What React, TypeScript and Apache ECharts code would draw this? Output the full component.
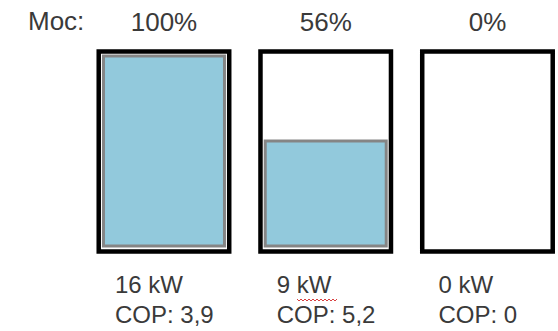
import React, { useEffect, useRef } from "react";
import * as echarts from "echarts";

// Data
const units = ["A", "B", "C"];
const capacity = [100, 100, 100];
const loadPercent = [100, 56, 0];
const powerKW = [16, 9, 0];
const copValues = ["3,9", "5,2", "0"];
const titleLabel = "Moc:";

export default function App() {
  const ref = useRef<HTMLDivElement>(null);

  useEffect(() => {
    if (!ref.current) return;
    const chart = echarts.init(ref.current, null, { renderer: "svg" });
    const textColor = "#3a3a3a";
    const font = "Liberation Sans, Arial, sans-serif";
    const gridLeft = 83.1;
    const gridWidth = 485.25;

    chart.setOption({
      animation: false,
      backgroundColor: "#ffffff",
      grid: [
        { left: gridLeft, width: gridWidth, top: 49.25, bottom: 331 - 253.75, outerBoundsMode: "none" },
        { left: gridLeft, width: gridWidth, top: 54.5, bottom: 331 - 247.5, outerBoundsMode: "none" },
      ],
      xAxis: [
        { type: "category", data: units, gridIndex: 0, show: false },
        { type: "category", data: units, gridIndex: 1, show: false },
      ],
      yAxis: [
        { type: "value", min: 0, max: 100, gridIndex: 0, show: false },
        { type: "value", min: 0, max: 100, gridIndex: 1, show: false },
      ],
      graphic: [
        {
          type: "text",
          left: 28,
          top: 8,
          style: {
            text: titleLabel,
            fontSize: 26,
            fontFamily: font,
            fill: textColor,
          },
        },
        {
          type: "polyline",
          shape: {
            points: [
              [297, 299], [299, 301], [301, 299], [303, 301], [305, 299], [307, 301],
              [309, 299], [311, 301], [313, 299], [315, 301], [317, 299], [319, 301],
              [321, 299], [323, 301], [325, 299], [327, 301], [329, 299], [331, 301],
              [333, 299], [335, 301], [337, 299],
            ],
          },
          style: { stroke: "#d84040", lineWidth: 1, fill: null },
          z: 10,
        },
      ],
      series: [
        {
          type: "bar",
          xAxisIndex: 0,
          yAxisIndex: 0,
          data: capacity,
          barWidth: 135,
          itemStyle: { color: "#ffffff", borderColor: "#000000", borderWidth: 4.5 },
          label: {
            show: true,
            position: "top",
            distance: 14,
            fontSize: 26,
            lineHeight: 26,
            fontFamily: font,
            color: textColor,
            formatter: (p: any) => `${loadPercent[p.dataIndex]}%`,
          },
          z: 1,
        },
        {
          type: "bar",
          xAxisIndex: 1,
          yAxisIndex: 1,
          data: loadPercent.map((v) => ({
            value: v,
            itemStyle: v === 0 ? { borderWidth: 0, color: "rgba(0,0,0,0)" } : undefined,
          })),
          barWidth: 124,
          itemStyle: { color: "#92c9dc", borderColor: "#858585", borderWidth: 3 },
          label: {
            show: true,
            position: "bottom",
            distance: 21.5,
            align: "left",
            offset: [-49, 0],
            fontSize: 24,
            lineHeight: 30,
            fontFamily: font,
            color: textColor,
            formatter: (p: any) =>
              `${powerKW[p.dataIndex]} kW\nCOP: ${copValues[p.dataIndex]}`,
          },
          z: 2,
        },
      ],
    });

    return () => chart.dispose();
  }, []);

  return (
    <div
      ref={ref}
      style={{ position: "fixed", left: 0, top: 0, width: 558, height: 331 }}
    />
  );
}
